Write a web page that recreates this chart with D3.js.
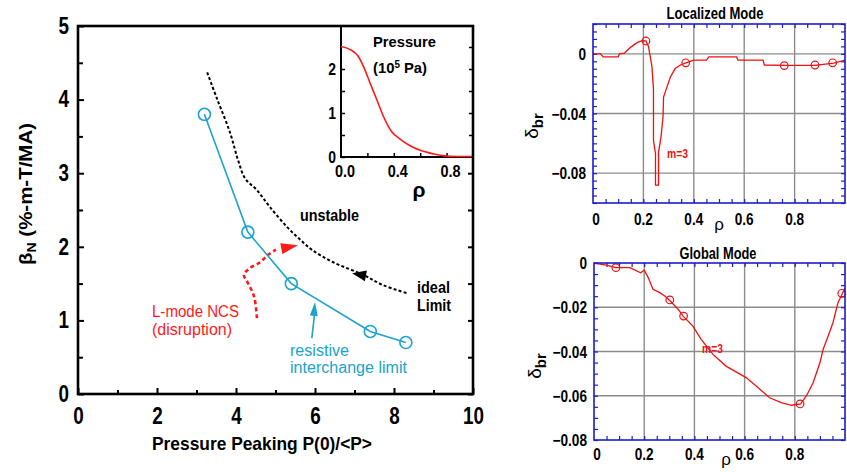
<!DOCTYPE html>
<html>
<head>
<meta charset="utf-8">
<script src="https://cdn.jsdelivr.net/npm/d3@7"></script>
<style>
  body { margin: 0; background: #fff; }
  svg { display: block; }
</style>
</head>
<body>
<svg id="chart" width="847" height="472"></svg>
<script>
// ---------- beta limit vs pressure peaking ----------
const peakingTicks = [0, 2, 4, 6, 8, 10];
const peakingMinor = [1, 3, 5, 7, 9];
const betaTicks = [0, 1, 2, 3, 4, 5];
const betaMinor = [0.5, 1.5, 2.5, 3.5, 4.5];

const resistivePeaking = [3.2, 4.3, 5.4, 7.4, 8.3];
const resistiveBeta = [3.8, 2.2, 1.5, 0.85, 0.7];

const idealPeaking = [3.27, 3.52, 3.85, 4.05, 4.23, 4.53, 4.86, 5.29, 5.62, 5.92, 6.46, 7.22, 7.72, 8.33];
const idealBeta = [4.37, 4.01, 3.55, 3.18, 2.93, 2.77, 2.54, 2.27, 2.1, 1.96, 1.79, 1.62, 1.48, 1.37];

// L-mode NCS disruption path; the last point is the arrow tip
const ncsPeaking = [4.53, 4.46, 4.30, 4.20, 4.35, 4.61, 4.81, 5.01, 5.57];
const ncsBeta = [1.03, 1.32, 1.51, 1.62, 1.71, 1.79, 1.89, 1.96, 2.02];

// arrow pointers (from -> tip)
const idealPointerPeaking = [7.35, 6.94];
const idealPointerBeta = [1.60, 1.64];
const resistivePointerPeaking = [5.92, 6.0];
const resistivePointerBeta = [0.76, 1.25];

// ---------- inset pressure profile ----------
const insetRho = [0, 0.07, 0.13, 0.17, 0.22, 0.27, 0.32, 0.38, 0.45, 0.52, 0.6, 0.7, 0.77, 0.88, 1.0];
const insetPressure = [2.5, 2.43, 2.28, 2.05, 1.67, 1.3, 0.92, 0.58, 0.39, 0.25, 0.14, 0.06, 0.02, 0.0, 0.0];
const insetPressureTicks = [0, 1, 2];
const insetRhoLabels = [0, 0.4, 0.8];

// ---------- localized mode ----------
const locRho = [0, 0.03, 0.04, 0.10, 0.105, 0.125, 0.15, 0.175, 0.195, 0.21, 0.22, 0.234, 0.24, 0.24, 0.248, 0.248,
  0.26, 0.26, 0.27, 0.278, 0.28, 0.294, 0.307, 0.327, 0.347, 0.369, 0.40, 0.45, 0.46, 0.57, 0.575, 0.675, 0.68,
  0.76, 0.88, 0.955, 1.0];
const locDelta = [0, 0, -0.0021, -0.0021, 0, 0.0005, 0.0045, 0.0075, 0.0089, 0.0087, 0.005, -0.0086, -0.024, -0.058,
  -0.067, -0.088, -0.088, -0.066, -0.0555, -0.042, -0.029, -0.022, -0.0155, -0.0097, -0.0075, -0.006, -0.0042,
  -0.0042, -0.0021, -0.0021, -0.0042, -0.0042, -0.0075, -0.0078, -0.0077, -0.0062, -0.0042];
const locMarkRho = [0.21, 0.368, 0.759, 0.881, 0.951];
const locMarkDelta = [0.0086, -0.006, -0.0079, -0.0075, -0.006];
const locDeltaLabels = [0, -0.04, -0.08];

// ---------- global mode ----------
const globRho = [0, 0.03, 0.05, 0.087, 0.143, 0.186, 0.2, 0.216, 0.235, 0.262, 0.282, 0.3, 0.335, 0.355, 0.394,
  0.427, 0.474, 0.526, 0.606, 0.646, 0.7, 0.746, 0.786, 0.823, 0.846, 0.873, 0.9, 0.913, 0.933, 0.952, 0.972, 0.99, 1.0];
const globDelta = [0, -0.0006, -0.001, -0.0021, -0.0021, -0.0044, -0.0033, -0.0066, -0.0119, -0.0134, -0.0149,
  -0.0167, -0.0209, -0.024, -0.0285, -0.0345, -0.0413, -0.0466, -0.0518, -0.0556, -0.0609, -0.0631, -0.0643,
  -0.0637, -0.0601, -0.0541, -0.0451, -0.039, -0.033, -0.027, -0.0179, -0.0137, -0.0112];
const globMarkRho = [0.087, 0.302, 0.357, 0.821, 0.987];
const globMarkDelta = [-0.0021, -0.0167, -0.024, -0.0637, -0.0137];
const globDeltaLabels = [0, -0.02, -0.04, -0.06, -0.08];

const rhoLabels = [0, 0.2, 0.4, 0.6, 0.8];

const FONT = "'Liberation Sans', Arial, sans-serif";
const RED = "#ff1a1a";
const CYAN = "#1aa3cc";
const PANEL_BLUE = "#1c1cc8";
const GRID = "#8c8c8c";

const svg = d3.select("#chart");
const zip = (a, b) => a.map((v, i) => [v, b[i]]);

// squeeze text horizontally to get a narrow-face look
function condense(sel, factor) {
  sel.each(function () {
    const w = this.getComputedTextLength();
    if (w > 0) d3.select(this).attr("textLength", w * factor).attr("lengthAdjust", "spacingAndGlyphs");
  });
}

function label(g, x, y, txt, opts = {}) {
  const t = g.append("text")
    .attr("x", x).attr("y", y)
    .attr("font-family", FONT)
    .attr("font-size", opts.size || 16)
    .attr("font-weight", opts.weight || "bold")
    .attr("fill", opts.color || "#000")
    .attr("text-anchor", opts.anchor || "start")
    .text(txt);
  if (opts.width) t.attr("textLength", opts.width).attr("lengthAdjust", "spacingAndGlyphs");
  return t;
}

function arrowHead(g, from, tip, len, half, color) {
  const dx = tip[0] - from[0], dy = tip[1] - from[1];
  const d = Math.hypot(dx, dy), ux = dx / d, uy = dy / d;
  const bx = tip[0] - ux * len, by = tip[1] - uy * len;
  const nx = -uy * half, ny = ux * half;
  g.append("path")
    .attr("d", `M${tip[0]},${tip[1]}L${bx + nx},${by + ny}L${bx - nx},${by - ny}Z`)
    .attr("fill", color);
}

// ===================== main chart =====================
const main = svg.append("g");
const x = d3.scaleLinear().domain([0, 10]).range([78, 473]);
const y = d3.scaleLinear().domain([0, 5]).range([394, 26]);

// inset scales
const ix = d3.scaleLinear().domain([0, 1]).range([341, 473]);
const iy = d3.scaleLinear().domain([0, 3]).range([157, 25]);

// bottom axis: major + minor ticks pointing inward
main.append("g").attr("transform", "translate(0,394)")
  .call(d3.axisBottom(x).tickValues(peakingTicks).tickSizeInner(-6).tickSizeOuter(0).tickPadding(14).tickFormat(d3.format("d")))
  .call(g => g.select(".domain").remove())
  .call(g => g.selectAll("text").attr("font-family", FONT).attr("font-size", 23).attr("font-weight", "bold").attr("fill", "#000").call(condense, 0.82))
  .call(g => g.selectAll("line").attr("stroke", "#000").attr("stroke-width", 2));
main.append("g").attr("transform", "translate(0,394)")
  .call(d3.axisBottom(x).tickValues(peakingMinor).tickSizeInner(-4).tickSizeOuter(0).tickFormat(""))
  .call(g => g.select(".domain").remove())
  .call(g => g.selectAll("line").attr("stroke", "#000").attr("stroke-width", 2));

// left axis
main.append("g").attr("transform", "translate(78,0)")
  .call(d3.axisLeft(y).tickValues(betaTicks).tickSizeInner(-6).tickSizeOuter(0).tickPadding(9).tickFormat(d3.format("d")))
  .call(g => g.select(".domain").remove())
  .call(g => g.selectAll("text").attr("font-family", FONT).attr("font-size", 23).attr("font-weight", "bold").attr("fill", "#000").call(condense, 0.82))
  .call(g => g.selectAll("line").attr("stroke", "#000").attr("stroke-width", 2));
main.append("g").attr("transform", "translate(78,0)")
  .call(d3.axisLeft(y).tickValues(betaMinor).tickSizeInner(-5).tickSizeOuter(0).tickFormat(""))
  .call(g => g.select(".domain").remove())
  .call(g => g.selectAll("line").attr("stroke", "#000").attr("stroke-width", 2));
// right side ticks (inward), below the inset
main.append("g").attr("transform", "translate(473,0)")
  .call(d3.axisLeft(y).tickValues(betaTicks.concat(betaMinor).filter(v => y(v) > 160)).tickSizeInner(5).tickSizeOuter(0).tickFormat(""))
  .call(g => g.select(".domain").remove())
  .call(g => g.selectAll("line").attr("stroke", "#000").attr("stroke-width", 2));

// ideal limit (black dotted)
const smooth = d3.line().curve(d3.curveCatmullRom.alpha(0.5));
main.append("path")
  .attr("d", smooth(zip(idealPeaking, idealBeta).map(d => [x(d[0]), y(d[1])])))
  .attr("fill", "none").attr("stroke", "#000").attr("stroke-width", 2).attr("stroke-dasharray", "3,2.2");
arrowHead(main,
  [x(idealPointerPeaking[0]), y(idealPointerBeta[0])],
  [x(idealPointerPeaking[1]), y(idealPointerBeta[1])], 14, 5.5, "#000");

// L-mode NCS disruption (red dashed) with arrow
const ncsPts = zip(ncsPeaking, ncsBeta).map(d => [x(d[0]), y(d[1])]);
main.append("path")
  .attr("d", smooth(ncsPts.slice(0, -1)))
  .attr("fill", "none").attr("stroke", RED).attr("stroke-width", 2.6).attr("stroke-dasharray", "4,3");
arrowHead(main, ncsPts[ncsPts.length - 2], ncsPts[ncsPts.length - 1], 17, 5.5, RED);

// resistive interchange limit (cyan)
const resPts = zip(resistivePeaking, resistiveBeta).map(d => [x(d[0]), y(d[1])]);
main.append("path")
  .attr("d", d3.line()(resPts))
  .attr("fill", "none").attr("stroke", CYAN).attr("stroke-width", 1.6);
main.selectAll("circle.res").data(resPts).join("circle")
  .attr("class", "res")
  .attr("cx", d => d[0]).attr("cy", d => d[1]).attr("r", 6)
  .attr("fill", "none").attr("stroke", CYAN).attr("stroke-width", 1.6);
const rp0 = [x(resistivePointerPeaking[0]), y(resistivePointerBeta[0])];
const rp1 = [x(resistivePointerPeaking[1]), y(resistivePointerBeta[1])];
main.append("line")
  .attr("x1", rp0[0]).attr("y1", rp0[1]).attr("x2", rp1[0]).attr("y2", rp1[1] + 8)
  .attr("stroke", CYAN).attr("stroke-width", 1.6);
arrowHead(main, rp0, rp1, 14, 4, CYAN);

// annotations
label(main, 300, 221, "unstable", { size: 17, width: 59 });
label(main, 417, 293, "ideal", { size: 16, width: 33 });
label(main, 417, 311, "Limit", { size: 16, width: 34 });
label(main, 152, 317, "L-mode NCS", { size: 16, weight: "normal", color: RED, width: 87 });
label(main, 152, 335, "(disruption)", { size: 16, weight: "normal", color: RED, width: 80 });
label(main, 290, 356, "resistive", { size: 16, weight: "normal", color: CYAN, width: 59 });
label(main, 290, 373, "interchange limit", { size: 16, weight: "normal", color: CYAN, width: 117 });

// axis titles
label(main, 152, 450, "Pressure Peaking P(0)/<P>", { size: 19, width: 220 });
const yt = main.append("text")
  .attr("transform", "translate(32,194) rotate(-90)")
  .attr("text-anchor", "middle")
  .attr("font-family", FONT).attr("font-size", 19).attr("font-weight", "bold")
  .attr("textLength", 142).attr("lengthAdjust", "spacingAndGlyphs");
yt.append("tspan").text("β");
yt.append("tspan").attr("font-size", 13).attr("dy", 4).text("N");
yt.append("tspan").attr("dy", -4).text(" (%-m-T/MA)");

// ----- inset -----
const inset = main.append("g");
inset.append("rect").attr("x", 341).attr("y", 26).attr("width", 132).attr("height", 131).attr("fill", "#fff");
inset.append("g").attr("transform", "translate(341,0)")
  .call(d3.axisLeft(iy).tickValues(insetPressureTicks).tickSizeInner(-4).tickSizeOuter(0).tickPadding(5).tickFormat(d3.format("d")))
  .call(g => g.select(".domain").remove())
  .call(g => g.selectAll("text").attr("font-family", FONT).attr("font-size", 17).attr("font-weight", "bold").attr("fill", "#000").call(condense, 0.82))
  .call(g => g.selectAll("line").attr("stroke", "#000").attr("stroke-width", 1.5));
inset.append("g").attr("transform", "translate(341,0)")
  .call(d3.axisLeft(iy).tickValues([0.5, 1.5]).tickSizeInner(-4).tickSizeOuter(0).tickFormat(""))
  .call(g => g.select(".domain").remove())
  .call(g => g.selectAll("line").attr("stroke", "#000").attr("stroke-width", 1.5));
inset.append("g").attr("transform", "translate(473,0)")
  .call(d3.axisLeft(iy).tickValues([0.5, 1, 1.5, 2, 2.5]).tickSizeInner(4).tickSizeOuter(0).tickFormat(""))
  .call(g => g.select(".domain").remove())
  .call(g => g.selectAll("line").attr("stroke", "#000").attr("stroke-width", 1.5));
inset.append("g").attr("transform", "translate(0,157)")
  .call(d3.axisBottom(ix).tickValues([0.2, 0.4, 0.6, 0.8]).tickSizeInner(-4).tickSizeOuter(0).tickFormat(""))
  .call(g => g.select(".domain").remove())
  .call(g => g.selectAll("line").attr("stroke", "#000").attr("stroke-width", 1.5));
inset.selectAll("text.irho").data(insetRhoLabels).join("text")
  .attr("class", "irho")
  .attr("x", d => ix(d) + 4).attr("y", 177)
  .attr("text-anchor", "middle")
  .attr("font-family", FONT).attr("font-size", 17).attr("font-weight", "bold")
  .text(d3.format(".1f"))
  .call(condense, 0.85);
inset.append("line").attr("x1", 341).attr("x2", 341).attr("y1", 26).attr("y2", 158)
  .attr("stroke", "#000").attr("stroke-width", 2);
inset.append("line").attr("x1", 340).attr("x2", 473).attr("y1", 157).attr("y2", 157)
  .attr("stroke", "#000").attr("stroke-width", 2);
// pressure profile drawn over the inset axes
inset.append("path")
  .attr("d", d3.line().curve(d3.curveMonotoneX)(zip(insetRho, insetPressure).map(d => [ix(d[0]), iy(d[1]) - 0.5])))
  .attr("fill", "none").attr("stroke", RED).attr("stroke-width", 1.6);
label(inset, 419, 197, "ρ", { size: 21, anchor: "middle" });
label(inset, 373, 47, "Pressure", { size: 15, width: 63 });
const pu = inset.append("text").attr("x", 373).attr("y", 73)
  .attr("font-family", FONT).attr("font-size", 15).attr("font-weight", "bold")
  .attr("textLength", 54).attr("lengthAdjust", "spacingAndGlyphs");
pu.append("tspan").text("(10");
pu.append("tspan").attr("font-size", 10).attr("dy", -5).text("5");
pu.append("tspan").attr("dy", 5).text(" Pa)");

// main frame on top
main.append("rect").attr("x", 78).attr("y", 26).attr("width", 395).attr("height", 368)
  .attr("fill", "none").attr("stroke", "#000").attr("stroke-width", 2.6);

// ===================== mode panels =====================
function modePanel(cfg) {
  const g = svg.append("g");
  const px = d3.scaleLinear().domain([0, 1]).range([cfg.left, cfg.right]);
  const py = d3.scaleLinear().domain(cfg.yDomain).range([cfg.bottom, cfg.top]);

  // grid
  g.selectAll("line.vg").data(rhoLabels.filter(v => v > 0)).join("line")
    .attr("x1", d => px(d)).attr("x2", d => px(d)).attr("y1", cfg.top).attr("y2", cfg.bottom)
    .attr("stroke", GRID).attr("stroke-width", 1.4);
  g.selectAll("line.hg").data(cfg.grid).join("line")
    .attr("x1", cfg.left).attr("x2", cfg.right).attr("y1", d => py(d)).attr("y2", d => py(d))
    .attr("stroke", GRID).attr("stroke-width", 1.4);

  // inward blue ticks on all sides
  const rhoMinor = d3.range(0.05, 1, 0.05);
  const dMinor = d3.range(cfg.yDomain[0], cfg.yDomain[1] + 1e-9, 0.005);
  const tickStyle = s => s.call(a => a.select(".domain").remove())
    .call(a => a.selectAll("line").attr("stroke", PANEL_BLUE).attr("stroke-width", 1.2));
  g.append("g").attr("transform", `translate(0,${cfg.bottom})`)
    .call(d3.axisTop(px).tickValues(rhoMinor).tickSize(4).tickFormat("")).call(tickStyle);
  g.append("g").attr("transform", `translate(0,${cfg.top})`)
    .call(d3.axisBottom(px).tickValues(rhoMinor).tickSize(4).tickFormat("")).call(tickStyle);
  g.append("g").attr("transform", `translate(${cfg.left},0)`)
    .call(d3.axisRight(py).tickValues(dMinor).tickSize(4).tickFormat("")).call(tickStyle);
  g.append("g").attr("transform", `translate(${cfg.right},0)`)
    .call(d3.axisLeft(py).tickValues(dMinor).tickSize(4).tickFormat("")).call(tickStyle);

  // curve and markers
  g.append("path")
    .attr("d", d3.line()(zip(cfg.rho, cfg.delta).map(d => [px(d[0]), py(d[1])])))
    .attr("fill", "none").attr("stroke", "#ee1111").attr("stroke-width", 1.3);
  g.selectAll("circle").data(zip(cfg.markRho, cfg.markDelta)).join("circle")
    .attr("cx", d => px(d[0])).attr("cy", d => py(d[1])).attr("r", 3.8)
    .attr("fill", "none").attr("stroke", "#ee1111").attr("stroke-width", 1.2);

  // frame
  g.append("rect").attr("x", cfg.left).attr("y", cfg.top)
    .attr("width", cfg.right - cfg.left).attr("height", cfg.bottom - cfg.top)
    .attr("fill", "none").attr("stroke", PANEL_BLUE).attr("stroke-width", 1.6);

  // tick labels
  g.selectAll("text.yl").data(cfg.yLabels).join("text")
    .attr("class", "yl")
    .attr("x", cfg.left - 7).attr("y", d => py(d) + 6)
    .attr("text-anchor", "end")
    .attr("font-family", FONT).attr("font-size", 16).attr("font-weight", "bold")
    .text(d => d === 0 ? "0" : d3.format(".2f")(d).replace("-", "\u2212"))
    .call(condense, 0.85);
  g.selectAll("text.xl").data(rhoLabels).join("text")
    .attr("class", "xl")
    .attr("x", d => px(d) + (d === 0 ? 3 : 0)).attr("y", cfg.xLabelY)
    .attr("text-anchor", "middle")
    .attr("font-family", FONT).attr("font-size", 16).attr("font-weight", "bold")
    .text(d => d === 0 ? "0" : d3.format(".1f")(d))
    .call(condense, 0.85);
  label(g, cfg.rhoX, cfg.rhoY, "ρ", { size: 17, weight: "normal", anchor: "middle" });

  // title and annotations
  label(g, cfg.titleX, cfg.titleY, cfg.title, { size: 16, anchor: "middle", width: cfg.titleW });
  label(g, cfg.mX, cfg.mY, "m=3", { size: 13, color: "#ee1111", width: 21 });

  const yl = g.append("text")
    .attr("transform", `translate(${cfg.dX},${cfg.dY}) rotate(-90)`)
    .attr("text-anchor", "middle")
    .attr("font-family", FONT).attr("font-size", 19);
  yl.append("tspan").text("δ");
  yl.append("tspan").attr("font-size", 15).attr("font-weight", "bold").attr("dy", 5).text("br");
}

modePanel({
  title: "Localized Mode", titleX: 715, titleY: 19, titleW: 97,
  left: 593, right: 845, top: 24, bottom: 203,
  yDomain: [-0.1, 0.02], grid: [0, -0.04, -0.08], yLabels: locDeltaLabels,
  rho: locRho, delta: locDelta, markRho: locMarkRho, markDelta: locMarkDelta,
  xLabelY: 225, rhoX: 719, rhoY: 230, mX: 667, mY: 158, dX: 538, dY: 126
});
modePanel({
  title: "Global Mode", titleX: 718, titleY: 259, titleW: 77,
  left: 594, right: 845, top: 263, bottom: 440,
  yDomain: [-0.08, 0], grid: [-0.02, -0.04, -0.06], yLabels: globDeltaLabels,
  rho: globRho, delta: globDelta, markRho: globMarkRho, markDelta: globMarkDelta,
  xLabelY: 460, rhoX: 726, rhoY: 465, mX: 702, mY: 353, dX: 541, dY: 366
});
</script>
</body>
</html>
